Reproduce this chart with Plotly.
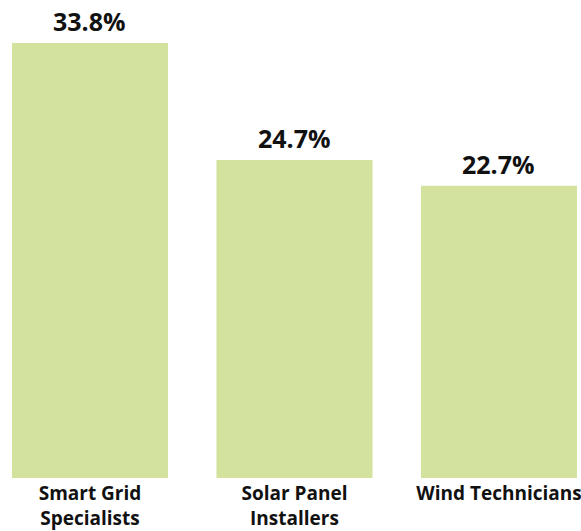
import plotly.graph_objects as go

categories = ["Smart Grid<br>Specialists", "Solar Panel<br>Installers", "Wind Technicians"]
values = [33.8, 24.7, 22.7]
value_labels = ["33.8%", "24.7%", "22.7%"]

bar_color = "#d3e29c"
font_family = "Open Sans"

fig = go.Figure()
fig.add_trace(go.Bar(
    x=[0, 1, 2], y=values, width=0.763,
    marker=dict(color=bar_color, line=dict(width=0)),
    hoverinfo="skip",
))

for i, (v, t) in enumerate(zip(values, value_labels)):
    fig.add_annotation(x=i, y=v, text=t, showarrow=False, yanchor="bottom",
                       yshift=3, font=dict(family=font_family, size=25, color="#111111", weight=700))

fig.update_layout(
    width=581, height=531,
    margin=dict(l=0, r=0, t=0, b=53),
    paper_bgcolor="white", plot_bgcolor="white",
    showlegend=False,
    xaxis=dict(range=[-0.440, 2.401], tickvals=[0, 1, 2], ticktext=categories,
               showgrid=False, zeroline=False, showline=False, ticks="",
               automargin=False, ticklabelstandoff=2, ticklabeloverflow="allow",
               tickfont=dict(family=font_family, size=19, color="#111111", weight=700)),
    yaxis=dict(range=[0, 37.14], visible=False, showgrid=False, zeroline=False,
               automargin=False),
)

fig.write_html("out.html", config={"displayModeBar": False},
               post_script="document.body.style.margin='0px';")
